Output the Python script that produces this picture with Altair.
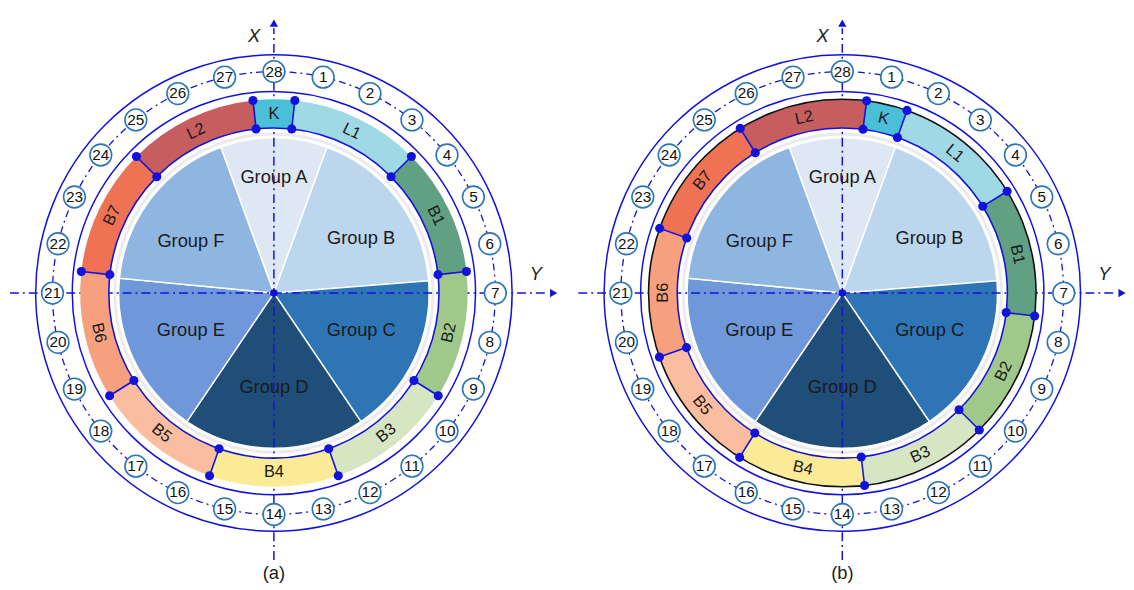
import math
import altair as alt
import pandas as pd

# ------------------------------------------------------------------ data
PANELS = ["(a)", "(b)"]
SEGMENTS = ["K", "L1", "B1", "B2", "B3", "B4", "B5", "B6", "B7", "L2"]
# segment start / end angles in degrees, clockwise from the X axis (top)
SEG_START_A = [353.8, 6.2, 45.2, 83.6, 122.0, 160.6, 199.4, 238.0, 276.4, 314.8]
SEG_END_A = [366.2, 45.2, 83.6, 122.0, 160.6, 199.4, 238.0, 276.4, 314.8, 353.8]
SEG_START_B = [7.2, 19.5, 58.3, 96.8, 135.0, 173.4, 212.0, 250.7, 289.5, 328.2]
SEG_END_B = [19.5, 58.3, 96.8, 135.0, 173.4, 212.0, 250.7, 289.5, 328.2, 367.2]
GROUPS = ["Group A", "Group B", "Group C", "Group D", "Group E", "Group F"]
GROUP_START = [340.0, 20.0, 85.5, 145.9, 214.1, 275.5]
GROUP_END = [380.0, 85.5, 145.9, 214.1, 275.5, 340.0]
POSITIONS = list(range(1, 29))

# ------------------------------------------------------------------ layout / style
CENTERS_X = [277, 852]
CENTER_Y = 293
R_OUTER, R_RING_IN, R_NUM, R_BUBBLE = 241, 204, 224, 11
R_BAND_OUT, R_BAND_IN, R_PIE, R_LABEL = 196, 167, 157, 181.5
PIE_LABEL_ANGLE = [0, 58, 113, 180, 246, 302]
PIE_LABEL_R = [117, 104, 96, 95, 92, 99]
BLUE = "#1212DC"
BUBBLE_STROKE = "#2E75B6"
FONT = "Liberation Sans"
SEG_COLORS = {"K": "#4BBFD8", "L1": "#A0D9E6", "B1": "#61A083", "B2": "#A0C88A",
              "B3": "#D6E6C3", "B4": "#FBEA96", "B5": "#FABDA0", "B6": "#F6A07D",
              "B7": "#EF7255", "L2": "#C65E60"}
GROUP_COLORS = {"Group A": "#DDE8F4", "Group B": "#BCD6EE", "Group C": "#2E75B6",
                "Group D": "#1F4E79", "Group E": "#6E98DA", "Group F": "#8FB6E1"}

W, H = 1126, 574
XS = alt.Scale(domain=[8, 8 + W], nice=False, zero=False)
YS = alt.Scale(domain=[8, 8 + H], nice=False, zero=False, reverse=True)
TS = alt.Scale(domain=[0, 360], range=[0, 2 * math.pi], nice=False, zero=False)


def polar(cx, r, deg):
    a = math.radians(deg)
    return cx + r * math.sin(a), CENTER_Y - r * math.cos(a)


def X(f="x"):
    return alt.X(f"{f}:Q", scale=XS, axis=None)


def Y(f="y"):
    return alt.Y(f"{f}:Q", scale=YS, axis=None)


# ------------------------------------------------------------------ tables
centers = pd.DataFrame({"panel": PANELS, "x": CENTERS_X, "y": [CENTER_Y] * 2})

seg_rows, bnd_rows = [], []
for p, cx, starts, ends in zip(PANELS, CENTERS_X, [SEG_START_A, SEG_START_B], [SEG_END_A, SEG_END_B]):
    for s, a0, a1 in zip(SEGMENTS, starts, ends):
        m = ((a0 + a1) / 2) % 360
        rot = m - 180 if 90 < m < 270 else m
        lx, ly = polar(cx, R_LABEL, m)
        seg_rows.append(dict(panel=p, seg=s, x=cx, y=CENTER_Y, t0=a0, t1=a1,
                             col=SEG_COLORS[s], lx=lx, ly=ly, rot=rot % 360))
        x1, y1 = polar(cx, R_BAND_IN, a0)
        x2, y2 = polar(cx, R_BAND_OUT, a0)
        bnd_rows.append(dict(panel=p, x=x1, y=y1, x2=x2, y2=y2))
segs = pd.DataFrame(seg_rows)
bnds = pd.DataFrame(bnd_rows)
dots = pd.concat([bnds[["x", "y"]],
                  bnds[["x2", "y2"]].rename(columns={"x2": "x", "y2": "y"})])

pie_rows = []
for p, cx in zip(PANELS, CENTERS_X):
    for g, a0, a1, la, lr in zip(GROUPS, GROUP_START, GROUP_END, PIE_LABEL_ANGLE, PIE_LABEL_R):
        lx, ly = polar(cx, lr, la)
        pie_rows.append(dict(panel=p, grp=g, x=cx, y=CENTER_Y, t0=a0, t1=a1,
                             col=GROUP_COLORS[g], lx=lx, ly=ly))
pie = pd.DataFrame(pie_rows)

num_rows = []
for p, cx in zip(PANELS, CENTERS_X):
    for n in POSITIONS:
        x, y = polar(cx, R_NUM, n * 360 / len(POSITIONS))
        num_rows.append(dict(panel=p, n=str(n), x=x, y=y))
nums = pd.DataFrame(num_rows)

axes_h = pd.DataFrame({"x": [c - 267 for c in CENTERS_X], "x2": [c + 278 for c in CENTERS_X],
                       "y": [CENTER_Y] * 2})
axes_v = pd.DataFrame({"x": CENTERS_X, "y": [CENTER_Y + 270] * 2, "y2": [CENTER_Y - 268] * 2})
arrow_r = pd.DataFrame({"x": [c + 283 for c in CENTERS_X], "y": [CENTER_Y] * 2})
arrow_u = pd.DataFrame({"x": CENTERS_X, "y": [CENTER_Y - 273] * 2})
lab_x = pd.DataFrame({"x": [c - 20 for c in CENTERS_X], "y": [CENTER_Y - 260] * 2, "t": ["X", "X"]})
lab_y = pd.DataFrame({"x": [c + 265 for c in CENTERS_X], "y": [CENTER_Y - 19] * 2, "t": ["Y", "Y"]})
caps = pd.DataFrame({"x": CENTERS_X, "y": [CENTER_Y + 283] * 2, "t": PANELS})


def ring(df, r, **kw):
    return alt.Chart(df).mark_point(shape="circle", filled=False, size=(2 * r) ** 2,
                                    opacity=1, **kw).encode(x=X(), y=Y())


layers = []
# outer rings
layers.append(ring(centers, R_OUTER, stroke=BLUE, strokeWidth=1.5))
layers.append(ring(centers, R_RING_IN, stroke=BLUE, strokeWidth=1.5))
# pie
layers.append(alt.Chart(pie).mark_arc(outerRadius=R_PIE, stroke="white", strokeWidth=1.5).encode(
    x=X(), y=Y(), theta=alt.Theta("t0:Q", scale=TS), theta2="t1:Q",
    color=alt.Color("col:N", scale=None)))
layers.append(ring(centers, R_PIE + 4, stroke="#ebebeb", strokeWidth=3))
# axes
dashdot = [9, 4, 2, 4]
layers.append(alt.Chart(axes_h).mark_rule(color=BLUE, strokeWidth=1.5, strokeDash=dashdot).encode(
    x=X(), x2="x2:Q", y=Y()))
layers.append(alt.Chart(axes_v).mark_rule(color=BLUE, strokeWidth=1.5, strokeDash=dashdot).encode(
    x=X(), y=Y(), y2="y2:Q"))
layers.append(alt.Chart(arrow_r).mark_point(shape="triangle-right", filled=True, size=70,
                                            color=BLUE, opacity=1).encode(x=X(), y=Y()))
layers.append(alt.Chart(arrow_u).mark_point(shape="triangle-up", filled=True, size=70,
                                            color=BLUE, opacity=1).encode(x=X(), y=Y()))
# band
layers.append(alt.Chart(segs).mark_arc(innerRadius=R_BAND_IN, outerRadius=R_BAND_OUT).encode(
    x=X(), y=Y(), theta=alt.Theta("t0:Q", scale=TS), theta2="t1:Q",
    color=alt.Color("col:N", scale=None)))
layers.append(ring(centers[centers.panel == "(b)"], R_BAND_OUT, stroke="#111111", strokeWidth=1.6))
layers.append(ring(centers, R_BAND_IN, stroke=BLUE, strokeWidth=1.6))
layers.append(alt.Chart(bnds).mark_rule(color=BLUE, strokeWidth=1.6).encode(
    x=X(), y=Y(), x2="x2:Q", y2="y2:Q"))
layers.append(alt.Chart(dots).mark_point(shape="circle", filled=True, size=85, color=BLUE,
                                         opacity=1).encode(x=X(), y=Y()))
# numbered positions
layers.append(ring(centers, R_NUM, stroke=BLUE, strokeWidth=1.3, strokeDash=[7, 4, 2, 4]))
layers.append(alt.Chart(nums).mark_point(shape="circle", filled=True, fill="white",
                                         stroke=BUBBLE_STROKE, strokeWidth=1.6, opacity=1,
                                         size=(2 * R_BUBBLE) ** 2).encode(x=X(), y=Y()))
layers.append(alt.Chart(nums).mark_text(font=FONT, fontSize=15.5, color="#111111",
                                        baseline="middle", align="center").encode(
    x=X(), y=Y(), text="n:N"))
# labels
layers.append(alt.Chart(segs).mark_text(font=FONT, fontSize=16.5, color="#1a1a1a",
                                        baseline="middle", align="center").encode(
    x=X("lx"), y=Y("ly"), text="seg:N", angle=alt.Angle("rot:Q", scale=None)))
layers.append(alt.Chart(pie).mark_text(font=FONT, fontSize=18.5, color="#1a1a1a",
                                       baseline="middle", align="center").encode(
    x=X("lx"), y=Y("ly"), text="grp:N"))
layers.append(alt.Chart(centers).mark_point(shape="circle", filled=True, size=60, color=BLUE,
                                            opacity=1).encode(x=X(), y=Y()))
for df in (lab_x, lab_y):
    layers.append(alt.Chart(df).mark_text(font=FONT, fontSize=18.5, fontStyle="italic",
                                          color="#222222", baseline="middle").encode(
        x=X(), y=Y(), text="t:N"))
layers.append(alt.Chart(caps).mark_text(font=FONT, fontSize=18.5, color="#222222",
                                        baseline="middle").encode(x=X(), y=Y(), text="t:N"))

chart = alt.layer(*layers).properties(width=W, height=H, padding=0).configure_view(stroke=None)
chart.save("out.html", embed_options={"renderer": "svg", "actions": False})
